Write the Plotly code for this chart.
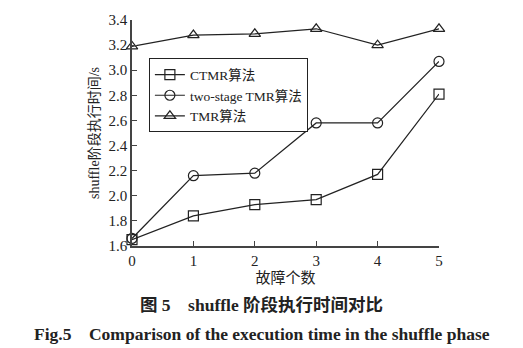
import plotly.graph_objects as go

faults = [0, 1, 2, 3, 4, 5]
ctmr = [1.65, 1.84, 1.93, 1.97, 2.17, 2.81]
two_stage = [1.66, 2.16, 2.18, 2.58, 2.58, 3.07]
tmr = [3.19, 3.28, 3.29, 3.33, 3.20, 3.33]
y_ticks = [1.6, 1.8, 2.0, 2.2, 2.4, 2.6, 2.8, 3.0, 3.2, 3.4]

FONT = "Liberation Serif, Times New Roman, Noto Sans CJK SC, serif"
INK = "#222"

series = [
    ("CTMR算法", ctmr, "square-open"),
    ("two-stage TMR算法", two_stage, "circle-open"),
    ("TMR算法", tmr, "triangle-up-open"),
]

fig = go.Figure()
for name, vals, sym in series:
    fig.add_trace(go.Scatter(
        x=faults, y=vals, name=name, mode="lines+markers",
        line=dict(color=INK, width=1.2),
        marker=dict(symbol=sym, size=10, color=INK, line=dict(width=1.2, color=INK)),
        cliponaxis=False,
    ))

fig.update_layout(
    width=523, height=348,
    margin=dict(l=132, r=84, t=16, b=102),
    paper_bgcolor="white", plot_bgcolor="white",
    font=dict(family=FONT, size=14, color=INK),
    showlegend=True,
    legend=dict(
        x=0.055, y=0.83, xanchor="left", yanchor="top",
        bgcolor="white", bordercolor=INK, borderwidth=1,
        font=dict(size=13.5, family=FONT), tracegroupgap=0,
        itemwidth=30,
    ),
    xaxis=dict(
        range=[0, 5], tickvals=faults, showgrid=False, zeroline=False,
        showline=True, linecolor="#444", linewidth=1.5,
        ticks="inside", ticklen=5, tickcolor="#444",
        tickfont=dict(size=15),
        title=dict(text="故障个数", font=dict(size=15), standoff=3),
    ),
    yaxis=dict(
        range=[1.6, 3.4], tickvals=y_ticks, tickformat=".1f",
        showgrid=False, zeroline=False,
        showline=True, linecolor="#444", linewidth=1.5,
        ticks="inside", ticklen=5, tickcolor="#444",
        tickfont=dict(size=15),
        title=dict(text="shuffle阶段执行时间/s", font=dict(size=14), standoff=6),
    ),
)

fig.add_annotation(
    text="<b>图 5    shuffle 阶段执行时间对比</b>",
    xref="paper", yref="paper", x=0.423, y=0, yshift=-59,
    xanchor="center", yanchor="middle",
    showarrow=False, font=dict(size=17.5, family=FONT, color=INK),
)
fig.add_annotation(
    text="<b>Fig.5    Comparison of the execution time in the shuffle phase</b>",
    xref="paper", yref="paper", x=0.423, y=0, yshift=-88,
    xanchor="center", yanchor="middle",
    showarrow=False, font=dict(size=17.5, family=FONT, color=INK),
)

fig.write_html("out.html")
